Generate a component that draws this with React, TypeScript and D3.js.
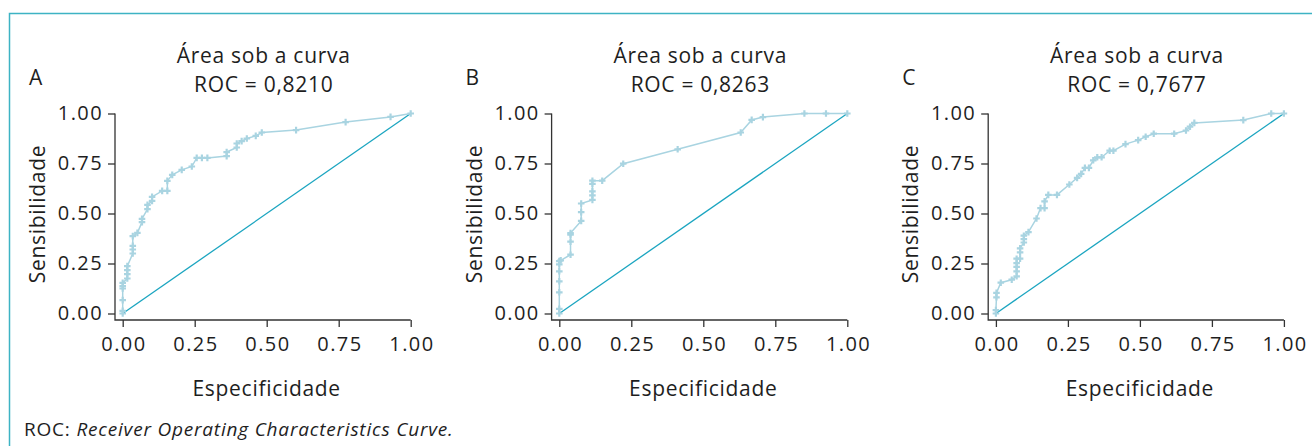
import React, { useRef, useEffect } from 'react';
import * as d3 from 'd3';

// 1 - especificidade (x) and sensibilidade (y)
const xA = [0, 0, 0, 0, 0, 0, 0.016, 0.016, 0.016, 0.016, 0.035, 0.035, 0.035, 0.035, 0.051, 0.067, 0.067, 0.086, 0.086, 0.102, 0.102, 0.137, 0.155, 0.155, 0.172, 0.205, 0.24, 0.257, 0.275, 0.294, 0.361, 0.361, 0.396, 0.396, 0.413, 0.431, 0.462, 0.483, 0.602, 0.774, 0.93, 1];
const yA = [0, 0.013, 0.067, 0.125, 0.137, 0.153, 0.175, 0.197, 0.217, 0.237, 0.3, 0.32, 0.338, 0.387, 0.403, 0.457, 0.473, 0.522, 0.543, 0.563, 0.583, 0.613, 0.613, 0.663, 0.693, 0.718, 0.735, 0.778, 0.778, 0.778, 0.787, 0.807, 0.83, 0.85, 0.862, 0.875, 0.888, 0.905, 0.917, 0.957, 0.983, 1];

const xB = [0, 0, 0, 0, 0, 0, 0, 0.005, 0.039, 0.039, 0.039, 0.039, 0.076, 0.076, 0.076, 0.115, 0.115, 0.115, 0.115, 0.115, 0.149, 0.222, 0.411, 0.63, 0.668, 0.707, 0.851, 0.926, 1];
const yB = [0, 0.023, 0.106, 0.161, 0.211, 0.246, 0.262, 0.266, 0.294, 0.359, 0.394, 0.402, 0.463, 0.507, 0.55, 0.568, 0.591, 0.611, 0.648, 0.664, 0.664, 0.749, 0.821, 0.905, 0.968, 0.982, 1, 1, 1];

const xC = [0, 0, 0.002, 0.002, 0.017, 0.055, 0.072, 0.072, 0.072, 0.072, 0.072, 0.084, 0.084, 0.084, 0.097, 0.097, 0.097, 0.113, 0.141, 0.155, 0.169, 0.169, 0.182, 0.212, 0.255, 0.282, 0.296, 0.309, 0.323, 0.338, 0.352, 0.367, 0.395, 0.408, 0.45, 0.494, 0.52, 0.548, 0.619, 0.66, 0.674, 0.689, 0.859, 0.956, 1];
const yC = [0, 0.017, 0.081, 0.103, 0.154, 0.169, 0.186, 0.211, 0.233, 0.252, 0.274, 0.274, 0.306, 0.326, 0.355, 0.372, 0.389, 0.407, 0.475, 0.527, 0.527, 0.561, 0.593, 0.593, 0.645, 0.678, 0.698, 0.728, 0.728, 0.766, 0.781, 0.781, 0.814, 0.814, 0.847, 0.867, 0.884, 0.899, 0.899, 0.915, 0.934, 0.953, 0.967, 1, 1];

const panelLetters = ['A', 'B', 'C'];
const aucLabels = ['0,8210', '0,8263', '0,7677'];
const ticks = [0, 0.25, 0.5, 0.75, 1];

const panels = [
  { letter: panelLetters[0], auc: aucLabels[0], xs: xA, ys: yA },
  { letter: panelLetters[1], auc: aucLabels[1], xs: xB, ys: yB },
  { letter: panelLetters[2], auc: aucLabels[2], xs: xC, ys: yC },
];

const App = () => {
  const ref = useRef(null);

  useEffect(() => {
    document.body.style.margin = '0';
    const svg = d3.select(ref.current);
    svg.selectAll('*').remove();

    const width = 1312;
    const height = 446;
    const font = "'Open Sans', sans-serif";
    const textColor = '#1e1e1e';
    const curveColor = '#a9d4e1';
    const diagColor = '#1ba5c0';

    const label = (sel, size, spacing) => sel
      .attr('fill', textColor)
      .style('font-family', font)
      .style('font-weight', 400)
      .style('font-size', `${size}px`)
      .style('letter-spacing', `${spacing}px`);

    // frame
    svg.append('path')
      .attr('d', `M9.5,${height} V13.5 H${width}`)
      .attr('fill', 'none')
      .attr('stroke', '#3db3c4')
      .attr('stroke-width', 1.5);

    const step = 436.6;

    panels.forEach((p, i) => {
      const ox = i * step;
      const x = d3.scaleLinear().domain([0, 1]).range([122.7 + ox, 410.7 + ox]);
      const y = d3.scaleLinear().domain([0, 1]).range([313.5, 113.5]);
      const axisX = 115 + ox;
      const axisY = 320;
      const g = svg.append('g');

      // axes
      const yAxis = g.append('g')
        .attr('transform', `translate(${axisX},0)`)
        .call(d3.axisLeft(y).tickValues(ticks).tickFormat(d3.format('.2f')).tickSize(7).tickPadding(5));
      const xAxis = g.append('g')
        .attr('transform', `translate(0,${axisY})`)
        .call(d3.axisBottom(x).tickValues(ticks).tickFormat(d3.format('.2f')).tickSize(7).tickPadding(10));
      [yAxis, xAxis].forEach(a => {
        a.select('.domain').remove();
        a.selectAll('line').attr('stroke', '#333').attr('stroke-width', 1.3);
        label(a.selectAll('text'), 20, 1.4);
      });
      xAxis.selectAll('text').attr('dx', '0.7px');
      g.append('path')
        .attr('d', `M${axisX},${y(1)} V${axisY} H${x(1)}`)
        .attr('fill', 'none')
        .attr('stroke', '#333')
        .attr('stroke-width', 1.3);

      // reference diagonal
      g.append('line')
        .attr('x1', x(0)).attr('y1', y(0))
        .attr('x2', x(1)).attr('y2', y(1))
        .attr('stroke', diagColor)
        .attr('stroke-width', 1.3);

      // ROC curve
      const pts = p.xs.map((v, k) => [v, p.ys[k]]);
      const line = d3.line().x(d => x(d[0])).y(d => y(d[1]));
      g.append('path')
        .datum(pts)
        .attr('d', line)
        .attr('fill', 'none')
        .attr('stroke', curveColor)
        .attr('stroke-width', 1.5);
      g.append('g')
        .selectAll('path')
        .data(pts)
        .enter()
        .append('path')
        .attr('transform', d => `translate(${x(d[0])},${y(d[1])})`)
        .attr('d', d3.symbol(d3.symbolCross, 24))
        .attr('fill', curveColor);

      const cx = (x(0) + x(1)) / 2 - 3;

      // titles
      label(g.append('text'), 21, 0.7)
        .attr('x', cx).attr('y', 63)
        .attr('text-anchor', 'middle')
        .text('Área sob a curva');
      label(g.append('text'), 21, 0.7)
        .attr('x', cx).attr('y', 92)
        .attr('text-anchor', 'middle')
        .text(`ROC = ${p.auc}`);
      label(g.append('text'), 21, 0)
        .attr('x', 29 + ox).attr('y', 85)
        .text(p.letter);

      // axis labels
      label(g.append('text'), 21, 0.7)
        .attr('x', x(0.5)).attr('y', 396)
        .attr('text-anchor', 'middle')
        .text('Especificidade');
      label(g.append('text'), 21, 0.7)
        .attr('transform', `translate(${45 + ox},${214}) rotate(-90)`)
        .attr('text-anchor', 'middle')
        .text('Sensibilidade');
    });

    // footnote
    const note = label(svg.append('text'), 19, 0.8)
      .attr('x', 24).attr('y', 436);
    note.append('tspan').text('ROC: ');
    note.append('tspan').style('font-style', 'italic').text('Receiver Operating Characteristics Curve.');
  }, []);

  return <svg ref={ref} width={1312} height={446} style={{ display: 'block' }}></svg>;
};

export default App;
